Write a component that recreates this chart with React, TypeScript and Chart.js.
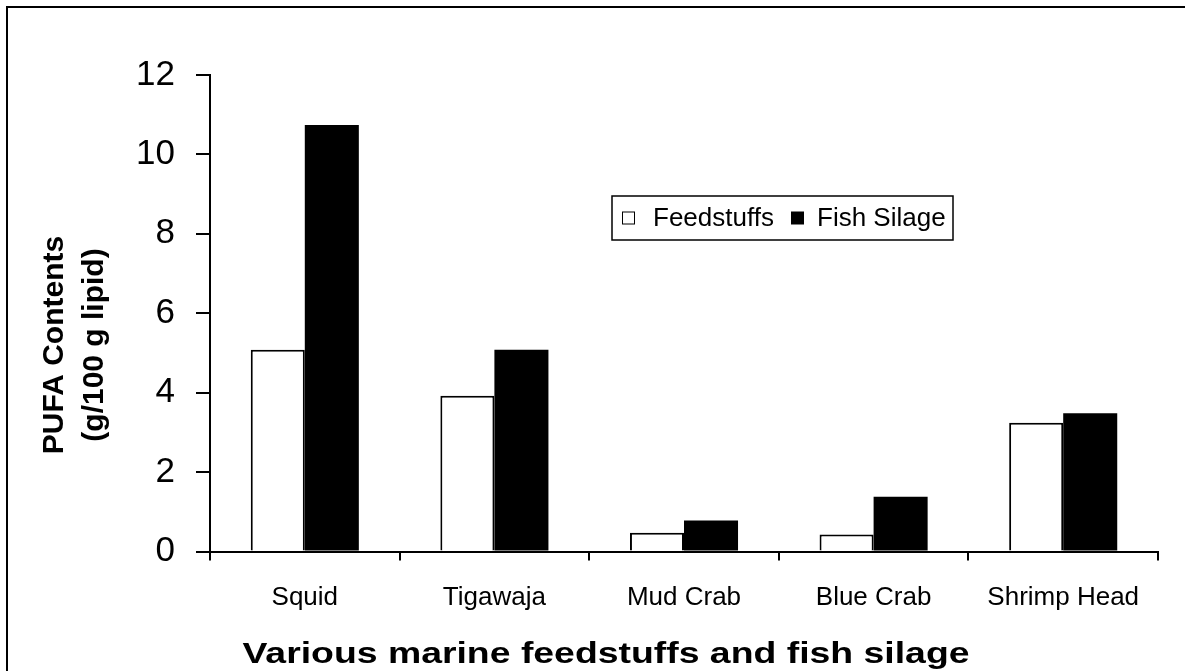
import React, { useEffect, useRef } from "react";
import { Chart, registerables } from "chart.js";

Chart.register(...registerables);

const categories = ["Squid", "Tigawaja", "Mud Crab", "Blue Crab", "Shrimp Head"];
const feedstuffs = [5.08, 3.92, 0.47, 0.43, 3.24];
const fishSilage = [10.74, 5.08, 0.78, 1.38, 3.48];
const seriesNames = ["Feedstuffs", "Fish Silage"];
const yTitleLines = ["PUFA Contents", "(g/100 g lipid)"];
const xTitle = "Various marine feedstuffs and fish silage";

const FONT = "'Liberation Sans', Arial, sans-serif";

const overlayPlugin = {
  id: "overlay",
  afterDraw(chart: any) {
    const ctx = chart.ctx as CanvasRenderingContext2D;
    ctx.save();
    // y axis title (two lines, rotated)
    ctx.fillStyle = "#000";
    ctx.font = `bold 30px ${FONT}`;
    ctx.textAlign = "center";
    ctx.textBaseline = "alphabetic";
    ctx.save();
    ctx.translate(0, 345);
    ctx.rotate(-Math.PI / 2);
    ctx.fillText(yTitleLines[0], 0, 63);
    ctx.fillText(yTitleLines[1], 0, 103);
    ctx.restore();
    // x axis title, fitted to its width in the reference
    ctx.save();
    const w = ctx.measureText(xTitle).width;
    const target = 727;
    ctx.translate(606, 663);
    ctx.scale(target / w, 1);
    ctx.fillText(xTitle, 0, 0);
    ctx.restore();

    // legend box
    const lx = 612, ly = 196, lw = 341, lh = 44;
    ctx.fillStyle = "#fff";
    ctx.fillRect(lx, ly, lw, lh);
    ctx.strokeStyle = "#000";
    ctx.lineWidth = 1.5;
    ctx.strokeRect(lx, ly, lw, lh);
    const cy = ly + lh / 2;
    ctx.lineWidth = 1;
    ctx.fillStyle = "#fff";
    ctx.fillRect(622, cy - 6.5, 13, 13);
    ctx.strokeRect(622.5, cy - 6, 12, 12);
    ctx.fillStyle = "#000";
    ctx.fillRect(791, cy - 6.5, 13, 13);
    ctx.font = `26px ${FONT}`;
    ctx.textAlign = "left";
    ctx.textBaseline = "middle";
    ctx.fillText(seriesNames[0], 653, cy + 1);
    ctx.fillText(seriesNames[1], 817, cy + 1);
    ctx.restore();
  },
};

export default function App() {
  const ref = useRef<HTMLCanvasElement>(null);
  useEffect(() => {
    const chart = new Chart(ref.current as HTMLCanvasElement, {
      type: "bar",
      data: {
        labels: categories,
        datasets: [
          {
            label: seriesNames[0],
            data: feedstuffs,
            backgroundColor: "#ffffff",
            borderColor: "#000000",
            borderWidth: 2,
          },
          {
            label: seriesNames[1],
            data: fishSilage,
            backgroundColor: "#000000",
            borderColor: "#000000",
            borderWidth: 0,
          },
        ],
      },
      options: {
        animation: false,
        responsive: true,
        maintainAspectRatio: false,
        layout: { padding: { left: 0, right: 27, top: 75, bottom: 0 } },
        datasets: { bar: { categoryPercentage: 0.57, barPercentage: 1 } },
        plugins: {
          legend: { display: false },
          tooltip: { enabled: false },
        },
        scales: {
          x: {
            afterFit(scale: any) {
              scale.height = 119.5;
            },
            grid: {
              drawOnChartArea: false,
              drawTicks: true,
              tickLength: 9,
              color: "#000",
              lineWidth: 2,
              offset: true,
            },
            border: { color: "#000", width: 2 },
            ticks: {
              color: "#000",
              font: { family: FONT, size: 26 },
              padding: 22,
              maxRotation: 0,
            },
          },
          y: {
            min: 0,
            max: 12,
            afterFit(scale: any) {
              scale.width = 210;
            },
            grid: {
              drawOnChartArea: false,
              drawTicks: true,
              tickLength: 14,
              color: "#000",
              lineWidth: 2,
            },
            border: { color: "#000", width: 2 },
            ticks: {
              stepSize: 2,
              color: "#000",
              font: { family: FONT, size: 35 },
              padding: 21,
            },
          },
        },
      },
      plugins: [overlayPlugin],
    });
    return () => chart.destroy();
  }, []);

  return (
    <div style={{ position: "fixed", left: 0, top: 0, width: 1185, height: 671, background: "#fff", overflow: "hidden" }}>
      <canvas ref={ref} />
      <div
        style={{
          position: "absolute",
          left: 6,
          top: 6,
          width: 1300,
          height: 800,
          borderLeft: "2px solid #000",
          borderTop: "2px solid #000",
          pointerEvents: "none",
        }}
      />
    </div>
  );
}
